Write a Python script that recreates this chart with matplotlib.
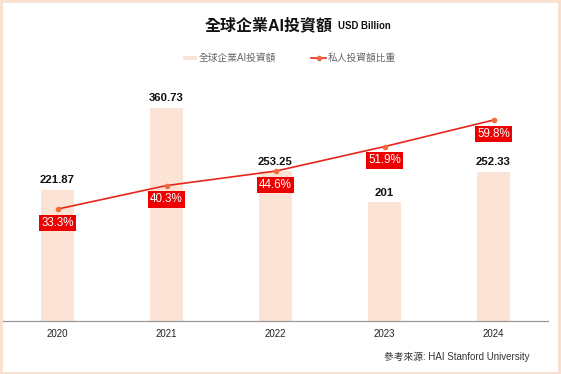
import matplotlib.pyplot as plt
from matplotlib.patches import Rectangle
from matplotlib.lines import Line2D

plt.rcParams['font.family'] = ['Liberation Sans', 'Noto Sans CJK TC']

years = ['2020', '2021', '2022', '2023', '2024']
invest = [221.87, 360.73, 253.25, 201, 252.33]
private_share = [33.3, 40.3, 44.6, 51.9, 59.8]

W, H = 561, 374
fig = plt.figure(figsize=(W / 100, H / 100), dpi=100)
fig.patch.set_facecolor('#f9e1d2')
fig.add_artist(Rectangle((3 / W, 2 / H), 555 / W, 369 / H, transform=fig.transFigure,
                         facecolor='white', edgecolor='none', zorder=-5))

ax = fig.add_axes([3 / W, 53 / H, 545 / W, 246 / H])
ax.set_facecolor('none')
x = range(len(years))
ax.bar(x, invest, width=0.31, color='#fbe3d5', zorder=1)
ax.set_xlim(-0.5, 4.5)
ax.set_ylim(0, 416.6)
ax.set_xticks(list(x))
ax.set_xticklabels(years, fontsize=7, color='#222')
ax.tick_params(axis='x', length=0, pad=6)
ax.set_yticks([])
for s in ['top', 'left', 'right']:
    ax.spines[s].set_visible(False)
ax.spines['bottom'].set_color('#999999')
ax.spines['bottom'].set_linewidth(0.9)

for i, v in enumerate(invest):
    ax.annotate(f'{v:g}', (i, v), xytext=(0, 7), textcoords='offset points',
                ha='center', va='center', fontsize=8.2, fontweight='bold', color='#111')

ax2 = ax.twinx()
ax2.set_ylim(0, 73.2)
ax2.axis('off')
ax2.plot(x, private_share, color='#e8261c', lw=1.2, marker='o', markersize=3,
         markerfacecolor='#f26b3a', markeredgecolor='#f26b3a', zorder=3)
for i, p in enumerate(private_share):
    ax2.annotate(f'{p}%', (i, p), xytext=(0, -10), textcoords='offset points',
                 ha='center', va='center', fontsize=8.4, color='white',
                 bbox=dict(boxstyle='square,pad=0.18', fc='#ee0000', ec='none'))

fig.text(205 / W, 1 - 25 / H, '全球企業AI投資額', fontsize=11.5, fontweight='bold',
         ha='left', va='center', color='#111')
fig.text(338 / W, 1 - 26 / H, 'USD Billion', fontsize=6.9, fontweight='bold',
         ha='left', va='center', color='#111')

# legend
fig.add_artist(Rectangle((183 / W, 1 - 60 / H), 14 / W, 4 / H, transform=fig.transFigure,
                         facecolor='#fbe3d5', edgecolor='none'))
fig.text(199 / W, 1 - 58 / H, '全球企業AI投資額', fontsize=7, color='#666',
         ha='left', va='center')
fig.add_artist(Line2D([311 / W, 326 / W], [1 - 58 / H, 1 - 58 / H], transform=fig.transFigure,
                      color='#e8261c', lw=1.2))
fig.add_artist(Line2D([318.5 / W], [1 - 58 / H], transform=fig.transFigure, marker='o',
                      markersize=3, color='#f26b3a', lw=0))
fig.text(328 / W, 1 - 58 / H, '私人投資額比重', fontsize=7, color='#666',
         ha='left', va='center')

fig.text(530 / W, 1 - 357 / H, '參考來源: HAI Stanford University', fontsize=7,
         color='#333', ha='right', va='center')

fig.savefig('out.png', dpi=100)
